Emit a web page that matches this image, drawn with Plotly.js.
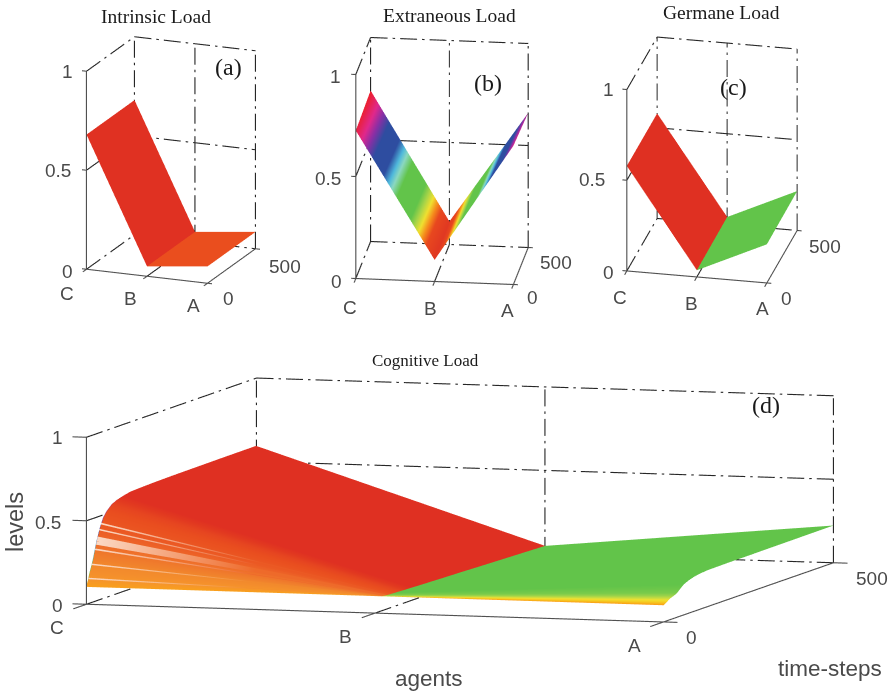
<!DOCTYPE html>
<html><head><meta charset="utf-8">
<script src="https://cdn.plot.ly/plotly-3.0.1.min.js"></script>
<style>html,body{margin:0;padding:0;background:#fff}#p{width:891px;height:692px}</style></head>
<body><div id="p"></div>
<script>
// ---------- data ----------
const agents = [0, 1, 2];
const agentLabels = ['C', 'B', 'A'];
const timeEnds = [0, 500];
const levelTicks = ['0', '0.5', '1'];
const timeLabels = ['0', '500'];

const intrinsicC = [0.68, 0.68], intrinsicB = [0.05, 0.05], intrinsicA = [0.085, 0.085];
const extraneousC = [0.725, 0.74], extraneousB = [0.106, 0.113], extraneousA = [0.68, 0.66];
const germaneC = [0.579, 0.579], germaneB = [0.037, 0.041], germaneA = [0.213, 0.217];

const timeSteps = [0, 5, 10, 15, 20, 30, 40, 50, 60, 75, 90, 110, 130, 160, 200, 250, 300, 400, 500];
const cognitiveC = [.104, .14, .185, .22, .26, .355, .43, .485, .515, .545, .56, .572, .581, .584, .587, .589, .59, .592, .593];
const cognitiveB = [.102, .098, .094, .09, .087, .084, .082, .081, .08, .079, .077, .076, .074, .072, .069, .066, .062, .055, .048];
const cognitiveA = [.1, .106, .113, .12, .127, .135, .145, .165, .183, .197, .207, .214, .218, .219, .22, .22, .221, .222, .223];
const cognitiveLeftColors = ['#F9A01C', '#F6962A', '#F48E2C', '#F28A2C', '#F0802C', '#EE6A2A', '#EB5A24', '#EA5220', '#E94E1F', '#E64520', '#E23A20', '#DF3022', '#DF3022', '#DF3022', '#DF3022', '#DF3022', '#DF3022', '#DF3022', '#DF3022'];
const cognitiveRightColors = ['#FB9C16', '#F7B81C', '#F5D024', '#F0E030', '#C8DC40', '#9AD24A', '#7ACB4A', '#6CC74A', '#62C44A', '#62C44A', '#62C44A', '#62C44A', '#62C44A', '#62C44A', '#62C44A', '#62C44A', '#62C44A', '#62C44A', '#62C44A'];
const extraneousStops = [[0, '#E03822'], [.1, '#E8481F'], [.15, '#F58A1C'], [.2, '#F0E030'], [.25, '#A8D448'], [.3, '#62C44A'], [.47, '#62C44A'], [.535, '#8BD8C0'], [.575, '#4FB8DC'], [.64, '#2E4DA0'], [.77, '#2E4DA0'], [.845, '#8A2FA5'], [.91, '#E0288C'], [1, '#EC2030']];
// pale streaks on the left part of the Cognitive Load surface
const streakT0 = [5.5, 15, 24.5, 28, 37.5, 42.5];
const streakT1 = [6.5, 16, 25.5, 33, 38.5, 43.5];
const streakC0 = [.142, .22, .303, .333, .412, .444];
const streakC1 = [.15, .228, .312, .378, .42, .453];
const streakB0 = [.096, .09, .085, .084, .082, .081];
const streakFade = ['#F48E2C', '#F28A2C', '#EE6A2A', '#EE6A2A', '#EB5A24', '#EB5A24'];
const edgeStops = [[0, '#F9A01C'], [.2, '#62C44A'], [.4, '#4FB8DC'], [.6, '#2E4DA0'], [.85, '#8A2FA5'], [1, '#DF3022']];
// ---------- page geometry ----------
const W = 891, H = 692;
const DASH = [17, 5, 2.5, 5];
function colorscale(cols) { return cols.map((c, i) => [i / (cols.length - 1), c]); }
function flat(c) { return [[0, c], [1, c]]; }
const panels = [
 {id: 'scene', O: [86, 269], u: [121, 14], v: [48, -34.5], w: 198, hw: 170, hh: 159, tick: 4.5},
 {id: 'scene2', O: [355.7, 278], u: [157.6, 6], v: [14.8, -37], w: 204, hw: 150, hh: 159, tick: 4.5},
 {id: 'scene3', O: [626.7, 270.7], u: [140, 12], v: [30.3, -52.5], w: 181.4, hw: 178, hh: 159, tick: 4.5},
 {id: 'scene4', O: [86, 604], u: [577, 17.7], v: [170, -59.2], w: 167, hw: 430, hh: 192, tick: 14}
];
const PAD = [0.05, 0.15, 0.02];
const layout = {width: W, height: H, margin: {l: 0, r: 0, t: 0, b: 0}, paper_bgcolor: '#fff', hovermode: false, showlegend: false, annotations: []};
const traces = [];
panels.forEach(P => {
  const tanphiSin = P.u[1] / P.u[0], cotphiSin = -P.v[1] / P.v[0];
  const sinT = Math.sqrt(tanphiSin * cotphiSin), phi = Math.atan(Math.sqrt(tanphiSin / cotphiSin));
  const cosT = Math.sqrt(1 - sinT * sinT);
  const lx = P.u[0] / Math.cos(phi), ly = P.v[0] / Math.sin(phi), lz = P.w / cosT;
  const cx = P.O[0] + (P.u[0] + P.v[0]) / 2, cy = P.O[1] + (P.u[1] + P.v[1] - P.w) / 2;
  const L = P.hh;
  const d = 3;
  layout[P.id] = {
    domain: {x: [(cx - P.hw) / W, (cx + P.hw) / W], y: [1 - (cy + P.hh) / H, 1 - (cy - P.hh) / H]},
    aspectmode: 'manual',
    aspectratio: {x: lx * (1 + 2 * PAD[0]) / L, y: ly * (1 + 2 * PAD[1]) / L, z: lz * (1 + 2 * PAD[2]) / L},
    camera: {projection: {type: 'orthographic'}, up: {x: 0, y: 0, z: 1}, center: {x: 0, y: 0, z: 0},
      eye: {x: d * Math.sin(phi) * cosT, y: -d * Math.cos(phi) * cosT, z: d * sinT}},
    xaxis: {visible: false, range: [-2 * PAD[0], 2 + 2 * PAD[0]], autorange: false},
    yaxis: {visible: false, range: [-500 * PAD[1], 500 + 500 * PAD[1]], autorange: false},
    zaxis: {visible: false, range: [-PAD[2], 1 + PAD[2]], autorange: false},
    bgcolor: 'rgba(0,0,0,0)'
  };
  P.px = (a, b, c) => Math.hypot(a / 2 * P.u[0] + b / 500 * P.v[0], a / 2 * P.u[1] + b / 500 * P.v[1] - c * P.w);
  const dx = [], dy = [], dz = [], sx = [], sy = [], sz = [];
  const dashSeg = (A, B) => {
    const len = P.px(B[0] - A[0], B[1] - A[1], B[2] - A[2]);
    let s = 0, i = 0;
    while (s < len) {
      const e = Math.min(len, s + DASH[i % 4]);
      if (i % 2 === 0) {
        [s, e].forEach(q => { const f = q / len; dx.push(A[0] + (B[0] - A[0]) * f); dy.push(A[1] + (B[1] - A[1]) * f); dz.push(A[2] + (B[2] - A[2]) * f); });
        dx.push(null); dy.push(null); dz.push(null);
      }
      s = e; i++;
    }
  };
  const solid = (A, B) => { sx.push(A[0], B[0], null); sy.push(A[1], B[1], null); sz.push(A[2], B[2], null); };
  [0, .5, 1].forEach(z => { dashSeg([0, 0, z], [0, 500, z]); dashSeg([0, 500, z], [2, 500, z]); });
  agents.forEach(a => dashSeg([a, 500, 0], [a, 500, 1]));
  dashSeg([1, 0, 0], [1, 500, 0]);
  solid([0, 0, 0], [0, 0, 1]); solid([0, 0, 0], [2, 0, 0]); solid([2, 0, 0], [2, 500, 0]);
  const tx = P.tick / Math.hypot(...P.u) * 2, ty = P.tick / Math.hypot(...P.v) * 500;
  [0, .5, 1].forEach(z => solid([0, 0, z], [-tx, 0, z]));
  agents.forEach(a => solid([a, 0, 0], [a, -ty, 0]));
  timeEnds.forEach(t => solid([2, t, 0], [2 + tx, t, 0]));
  const common = {type: 'scatter3d', mode: 'lines', scene: P.id, hoverinfo: 'skip', connectgaps: false};
  traces.push(Object.assign({x: dx, y: dy, z: dz, line: {color: '#262626', width: 2.2}}, common));
  traces.push(Object.assign({x: sx, y: sy, z: sz, line: {color: '#505050', width: 2.2}}, common));
});
const light = {ambient: 1, diffuse: 0, specular: 0, fresnel: 0, roughness: 1};
const off = {x: {show: false, highlight: false}, y: {show: false, highlight: false}, z: {show: false, highlight: false}};
function strip(scene, xs, ts, zA, zB, colors) {
  const z = ts.map((_, i) => [zA[i], zB[i]]);
  const sc = ts.map((_, i) => [i, i]);
  traces.push({type: 'surface', scene, x: xs, y: ts, z, surfacecolor: sc, cmin: 0, cmax: ts.length - 1,
    colorscale: Array.isArray(colors) ? colorscale(colors) : flat(colors), showscale: false, lighting: light, contours: off, hoverinfo: 'skip'});
}
strip('scene', [0, 1], timeEnds, intrinsicC, intrinsicB, '#E03122');
strip('scene', [1, 2], timeEnds, intrinsicB, intrinsicA, '#EA4E1E');
strip('scene3', [0, 1], timeEnds, germaneC, germaneB, '#DF3022');
strip('scene3', [1, 2], timeEnds, germaneB, germaneA, '#62C44A');
traces.push({type: 'surface', scene: 'scene2', x: agents, y: timeEnds,
  z: timeEnds.map((_, i) => [extraneousC[i], extraneousB[i], extraneousA[i]]),
  surfacecolor: timeEnds.map((_, i) => [extraneousC[i], extraneousB[i], extraneousA[i]]),
  cmin: 0.108, cmax: 0.735, colorscale: extraneousStops, showscale: false, lighting: light, contours: off, hoverinfo: 'skip'});
strip('scene4', [0, 1], timeSteps, cognitiveC, cognitiveB, cognitiveLeftColors);
strip('scene4', [1, 2], timeSteps, cognitiveB, cognitiveA, cognitiveRightColors);
streakT0.forEach((t0, i) => {
  const lift = 0.004;
  traces.push({type: 'surface', scene: 'scene4', x: [0, 1], y: [t0, streakT1[i]],
    z: [[streakC0[i] + lift, streakB0[i] + lift], [streakC1[i] + lift, streakB0[i] + lift]],
    surfacecolor: [[0, 1], [0, 1]], cmin: 0, cmax: 1,
    colorscale: [[0, '#FBD9C4'], [.55, streakFade[i]], [1, streakFade[i]]],
    showscale: false, lighting: light, contours: off, hoverinfo: 'skip'});
});
traces.push({type: 'scatter3d', mode: 'lines', scene: 'scene4', hoverinfo: 'skip',
  x: timeSteps.map(() => 0), y: timeSteps, z: cognitiveC,
  line: {width: 1.2, color: cognitiveC, colorscale: edgeStops, cmin: .104, cmax: .57}});

function text(t, x, y, size, family, color, extra) {
  layout.annotations.push(Object.assign({text: t, xref: 'paper', yref: 'paper', x: x / W, y: 1 - y / H, xanchor: 'center', yanchor: 'middle', showarrow: false, font: {size, family, color}}, extra || {}));
}
const SERIF = 'Liberation Serif', SANS = 'Liberation Sans', GREY = '#4a4a4a';
text('Intrinsic Load', 156, 17, 19.5, SERIF, '#1a1a1a');
text('Extraneous Load', 449, 15, 19.5, SERIF, '#1a1a1a');
text('Germane Load', 721, 12, 19.5, SERIF, '#1a1a1a');
text('Cognitive Load', 425, 360, 17, SERIF, '#1a1a1a');
text('(a)', 228, 67, 24, SERIF, '#1a1a1a');
text('(b)', 488, 83, 24, SERIF, '#1a1a1a');
text('(c)', 733, 87, 24, SERIF, '#1a1a1a');
text('(d)', 766, 405, 24, SERIF, '#1a1a1a');
const labelPos = [
 {lev: [[67, 271], [58, 171], [67, 71]], ag: [[67, 293], [130, 298], [193, 305]], tm: [[228, 298], [285, 266]]},
 {lev: [[336, 281], [328, 178], [335, 76]], ag: [[350, 307], [430, 308], [508, 310]], tm: [[532, 297], [556, 262]]},
 {lev: [[608, 272], [592, 180], [608, 90]], ag: [[620, 297], [691, 303], [762, 308]], tm: [[786, 298], [825, 246]]},
 {lev: [[57, 605], [48, 522], [57, 437]], ag: [[57, 627], [345, 636], [634, 645]], tm: [[691, 637], [872, 578]]}
];
labelPos.forEach(p => {
  levelTicks.forEach((t, i) => text(t, p.lev[i][0], p.lev[i][1], 19, SANS, GREY));
  agentLabels.forEach((t, i) => text(t, p.ag[i][0], p.ag[i][1], 19, SANS, GREY));
  timeLabels.forEach((t, i) => text(t, p.tm[i][0], p.tm[i][1], 19, SANS, GREY));
});
text('levels', 15, 522, 23.5, SANS, GREY, {textangle: -90});
text('agents', 429, 678, 22.5, SANS, GREY);
text('time-steps', 830, 668, 22.5, SANS, GREY);
Plotly.newPlot('p', traces, layout, {displayModeBar: false, responsive: false});
</script></body></html>
